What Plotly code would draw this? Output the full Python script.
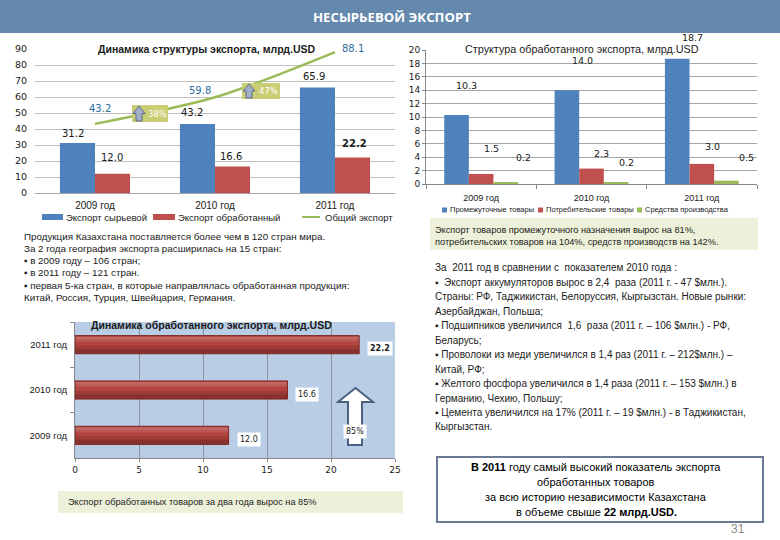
import plotly.graph_objects as go

W, H = 780, 540

# ---------------- data ----------------
years = ["2009 год", "2010 год", "2011 год"]
raw_export = [31.2, 43.2, 65.9]          # Экспорт сырьевой
processed_export = [12.0, 16.6, 22.2]    # Экспорт обработанный
total_export = [43.2, 59.8, 88.1]        # Общий экспорт
total_growth = ["38%", "47%"]

years2 = ["2009 год", "2010 год", "2011 год"]
intermediate = [10.3, 14.0, 18.7]        # Промежуточные товары
consumer = [1.5, 2.3, 3.0]               # Потребительские товары
capital = [0.2, 0.2, 0.5]                # Средства производства

processed_growth = "85%"

# ---------------- styles ----------------
BLUE, RED, GREEN = "#4F81BD", "#C0504D", "#9BBB59"
FONT = "Liberation Sans"
NUM = "DejaVu Sans"
TXT = "#1a1a1a"


def px(x):
    return x / W


def py(y):
    return 1 - y / H


fig = go.Figure()

# ---------- chart 1: export structure ----------
bw1 = 0.292
fig.add_trace(go.Bar(x=years, y=raw_export, name="Экспорт сырьевой", marker_color=BLUE,
                     width=bw1, offset=-bw1, xaxis="x", yaxis="y", showlegend=False))
fig.add_trace(go.Bar(x=years, y=processed_export, name="Экспорт обработанный", marker_color=RED,
                     width=bw1, offset=0, xaxis="x", yaxis="y", showlegend=False))
fig.add_trace(go.Scatter(x=years, y=total_export, name="Общий экспорт", mode="lines",
                         line=dict(color=GREEN, width=2.5, shape="spline", smoothing=0.8),
                         xaxis="x", yaxis="y", showlegend=False))

# ---------- chart 2: processed export structure ----------
bw2 = 0.223
for vals, col, off, nm in [(intermediate, BLUE, -1.5 * bw2, "Промежуточные товары"),
                           (consumer, RED, -0.5 * bw2, "Потребительские товары"),
                           (capital, GREEN, 0.5 * bw2, "Средства производства")]:
    fig.add_trace(go.Bar(x=years2, y=vals, name=nm, marker_color=col, width=bw2, offset=off,
                         xaxis="x2", yaxis="y2", showlegend=False))

# ---------- chart 3: processed export dynamics (shaded bars) ----------
bw3 = 0.4
fig.add_trace(go.Bar(x=processed_export, y=years, orientation="h", width=bw3, offset=-bw3 / 2,
                     marker=dict(color="#B4443F", line=dict(width=0)), name="Экспорт обработанный",
                     xaxis="x3", yaxis="y3", showlegend=False))
for w_frac, shade in [(0.28, "rgba(255,255,255,0.10)"), (0.14, "rgba(255,255,255,0.10)")]:
    fig.add_trace(go.Bar(x=processed_export, y=years, orientation="h", width=bw3 * w_frac,
                         offset=bw3 / 2 - bw3 * w_frac - bw3 * 0.06,
                         marker=dict(color=shade, line=dict(width=0)), hoverinfo="skip",
                         xaxis="x3", yaxis="y3", showlegend=False))
for w_frac, shade in [(0.45, "rgba(0,0,0,0.12)"), (0.25, "rgba(0,0,0,0.14)")]:
    fig.add_trace(go.Bar(x=processed_export, y=years, orientation="h", width=bw3 * w_frac,
                         offset=-bw3 / 2, marker=dict(color=shade, line=dict(width=0)), hoverinfo="skip",
                         xaxis="x3", yaxis="y3", showlegend=False))
fig.add_trace(go.Bar(x=processed_export, y=years, orientation="h", width=bw3, offset=-bw3 / 2,
                     marker=dict(color="rgba(0,0,0,0)", line=dict(color="#7E2624", width=1)),
                     hoverinfo="skip", xaxis="x3", yaxis="y3", showlegend=False))

ann = []
shapes = []


def txt(x, y, s, size, color=TXT, anchor="left", family=FONT, bg=None, pad=1):
    d = dict(xref="paper", yref="paper", x=px(x), y=py(y), text=s, showarrow=False,
             xanchor=anchor, yanchor="middle", font=dict(family=family, size=size, color=color),
             borderpad=pad)
    if bg:
        d["bgcolor"] = bg
    ann.append(d)


# header
shapes.append(dict(type="rect", xref="paper", yref="paper", x0=0, x1=1, y0=py(33), y1=1,
                   fillcolor="#6589AD", line=dict(width=0), layer="below"))
txt(392, 17, "<b>НЕСЫРЬЕВОЙ ЭКСПОРТ</b>", 13.2, "white", "center", "Open Sans")

# chart 1 labels
off1 = [-bw1 / 2, bw1 / 2]
lab_raw = [(-4, 10), (-5, 11), (-3, 11)]
lab_proc = [(-1, 16), (-2, 10), (2, 14)]
for i in range(3):
    ann.append(dict(xref="x", yref="y", x=i + off1[0], y=raw_export[i], text=f"{raw_export[i]:.1f}",
                    showarrow=False, xshift=lab_raw[i][0], yshift=lab_raw[i][1],
                    font=dict(family=NUM, size=10, color=TXT)))
    ann.append(dict(xref="x", yref="y", x=i + off1[1], y=processed_export[i],
                    text=(f"<b>{processed_export[i]:.1f}</b>" if i == 2 else f"{processed_export[i]:.1f}"),
                    showarrow=False, xshift=lab_proc[i][0], yshift=lab_proc[i][1],
                    font=dict(family=NUM, size=10, color=TXT)))
lab_tot = [(5, 15), (-15, 7), (18, 4)]
for i in range(3):
    ann.append(dict(xref="x", yref="y", x=i, y=total_export[i], text=f"{total_export[i]:.1f}",
                    showarrow=False, xshift=lab_tot[i][0], yshift=lab_tot[i][1],
                    font=dict(family=NUM, size=10, color="#2B6C9E")))
txt(206, 49, "<b>Динамика структуры экспорта, млрд.USD</b>", 10.5, TXT, "center")


def pct_box(x0, y0, x1, y1, label):
    shapes.append(dict(type="rect", xref="paper", yref="paper", x0=px(x0), x1=px(x1), y0=py(y1), y1=py(y0),
                       fillcolor="#C9CD74", line=dict(width=0)))
    ax0, ax1 = x0 + 1, x0 + 13
    am = (ax0 + ax1) / 2
    ym = (y0 + y1) / 2
    path = (f"M{px(ax0)},{py(ym)} L{px(am)},{py(y0 + 1)} L{px(ax1)},{py(ym)} L{px(am + 3)},{py(ym)} "
            f"L{px(am + 3)},{py(y1 - 1)} L{px(am - 3)},{py(y1 - 1)} L{px(am - 3)},{py(ym)} Z")
    shapes.append(dict(type="path", xref="paper", yref="paper", path=path, fillcolor="#A3AECB",
                       line=dict(color="#5C6A8A", width=1)))
    txt((x0 + 14 + x1) / 2, ym, label, 8.5, "white", "center", NUM)


pct_box(132, 105, 168, 122, total_growth[0])
pct_box(242, 83, 280, 99, total_growth[1])

# chart 1 legend (manual)
LY1 = 217
shapes.append(dict(type="rect", xref="paper", yref="paper", x0=px(42), x1=px(63), y0=py(LY1 + 3),
                   y1=py(LY1 - 3), fillcolor=BLUE, line=dict(width=0)))
shapes.append(dict(type="rect", xref="paper", yref="paper", x0=px(153), x1=px(175), y0=py(LY1 + 3),
                   y1=py(LY1 - 3), fillcolor=RED, line=dict(width=0)))
shapes.append(dict(type="line", xref="paper", yref="paper", x0=px(302), x1=px(320), y0=py(LY1), y1=py(LY1),
                   line=dict(color=GREEN, width=2)))
txt(64, LY1, "Экспорт сырьевой", 9.5)
txt(176, LY1, "Экспорт обработанный", 9.5)
txt(323, LY1, "Общий экспорт", 9.5)

# chart 2 labels
cent2 = [-bw2, 0, bw2]
lab2 = [[(10, 29), (16, 30), (15, 21)],
        [(10, 25), (10, 15), (11, 17)],
        [(18, 25), (10, 20), (20, 23)]]
for s, vals in enumerate([intermediate, consumer, capital]):
    for i in range(3):
        ann.append(dict(xref="x2", yref="y2", x=i + cent2[s], y=vals[i], text=f"{vals[i]:.1f}",
                        showarrow=False, xshift=lab2[s][i][0], yshift=lab2[s][i][1],
                        font=dict(family=NUM, size=9.5, color=TXT)))
txt(582, 49, "Структура обработанного экспорта, млрд.USD", 10.8, TXT, "center")

# chart 2 legend (manual)
LY2 = 210
for x0, col, label in [(442, BLUE, "Промежуточные товары"), (538, RED, "Потребительские товары"),
                       (637, GREEN, "Средства производства")]:
    shapes.append(dict(type="rect", xref="paper", yref="paper", x0=px(x0), x1=px(x0 + 5), y0=py(LY2 + 2.5),
                       y1=py(LY2 - 2.5), fillcolor=col, line=dict(width=0)))
    txt(x0 + 6, LY2, label, 7.5)

# green note box
shapes.append(dict(type="rect", xref="paper", yref="paper", x0=px(430), x1=px(758), y0=py(250), y1=py(218),
                   fillcolor="#EEF1DA", line=dict(width=0), layer="below"))
txt(433, 230, "Экспорт товаров промежуточного назначения вырос на 81%,", 9.2)
txt(433, 242, "потребительских товаров на 104%, средств производств на 142%.", 9.2)

# left text block
left_lines = [
    "Продукция Казахстана поставляется более чем в 120 стран мира.",
    "За 2 года география экспорта расширилась на 15 стран:",
    "▪ в 2009 году – 106 стран;",
    "▪ в 2011 году – 121 стран.",
    "▪ первая 5-ка стран, в которые направлялась обработанная продукция:",
    "Китай, Россия, Турция, Швейцария, Германия.",
]
for k, s in enumerate(left_lines):
    txt(22, 236 + k * 12.3, s, 9.8)

# right text block
right_lines = [
    "За  2011 год в сравнении с  показателем 2010 года :",
    "▪  Экспорт аккумуляторов вырос в 2,4  раза (2011 г. - 47 $млн.).",
    "Страны: РФ, Таджикистан, Белоруссия, Кыргызстан. Новые рынки:",
    "Азербайджан, Польша;",
    "▪ Подшипников увеличился  1,6  раза (2011 г. – 106 $млн.) - РФ,",
    "Беларусь;",
    "▪ Проволоки из меди увеличился в 1,4 раз (2011 г. – 212$млн.) –",
    "Китай, РФ;",
    "▪ Желтого фосфора увеличился в 1,4 раза (2011 г. – 153 $млн.) в",
    "Германию, Чехию, Польшу;",
    "▪ Цемента увеличился на 17% (2011 г. – 19 $млн.) - в Таджикистан,",
    "Кыргызстан.",
]
for k, s in enumerate(right_lines):
    txt(433, 268 + k * 14.45, s, 10)

# chart 3 background and decorations
shapes.append(dict(type="rect", xref="x3 domain", yref="y3 domain", x0=0, x1=1, y0=0, y1=1,
                   fillcolor="#B9CDE5", line=dict(width=0), layer="below"))
txt(211, 325, "<b>Динамика обработанного экспорта, млрд.USD</b>", 10.5, TXT, "center")
for i in range(3):
    v = processed_export[i]
    ann.append(dict(xref="x3", yref="y3", x=v, y=i, text=(f"<b>{v:.1f}</b>" if i == 2 else f"{v:.1f}"),
                    showarrow=False, xanchor="left", xshift=8, yshift=-4, bgcolor="white", borderpad=2,
                    font=dict(family=NUM, size=8, color=TXT)))
arrow = "M{},{} L{},{} L{},{} L{},{} L{},{} L{},{} L{},{} Z".format(
    px(348), py(445), px(348), py(402), px(338), py(402), px(355.5), py(388),
    px(373), py(402), px(362), py(402), px(362), py(445))
shapes.append(dict(type="path", xref="paper", yref="paper", path=arrow, fillcolor="white",
                   line=dict(color="#4A6183", width=2)))
txt(355, 431, processed_growth, 8, TXT, "center", NUM, bg="white", pad=2)

# bottom-left note
shapes.append(dict(type="rect", xref="paper", yref="paper", x0=px(58), x1=px(403), y0=py(513), y1=py(491),
                   fillcolor="#EEF1DA", line=dict(width=0), layer="below"))
txt(66, 502, "Экспорт обработанных товаров за два года вырос на 85%", 9.2)

# bottom-right box
shapes.append(dict(type="rect", xref="paper", yref="paper", x0=px(437), x1=px(763), y0=py(522), y1=py(457),
                   fillcolor="white", line=dict(color="#6C7B95", width=2), layer="below"))
br = ["<b>В 2011</b> году самый высокий показатель экспорта",
      "обработанных товаров",
      "за всю историю независимости Казахстана",
      "в объеме свыше <b>22 млрд.USD.</b>"]
for k, s in enumerate(br):
    txt(596, 467 + k * 15, s, 11, "black", "center")
txt(738, 529, "31", 12, "#8C8C8C", "center")

axis_font = dict(family=NUM, size=9, color=TXT)
fig.update_layout(
    width=W, height=H, margin=dict(l=0, r=0, t=0, b=0),
    paper_bgcolor="white", plot_bgcolor="rgba(0,0,0,0)", template="none",
    xaxis=dict(domain=[px(35), px(395)], anchor="y", type="category", showgrid=False, showline=True,
               linecolor="#A6A6A6", ticks="", ticklabelstandoff=3,
               tickfont=dict(family=FONT, size=10, color=TXT)),
    yaxis=dict(domain=[py(193), py(49)], anchor="x", range=[0, 90], dtick=10, showgrid=True,
               gridcolor="#BFBFBF", gridwidth=1, zeroline=False, showline=False, ticks="",
               ticklabelstandoff=7, tickfont=dict(family=NUM, size=9.5, color=TXT)),
    xaxis2=dict(domain=[px(426), px(757)], anchor="y2", type="category", showgrid=False, showline=True,
                linecolor="#868686", ticks="outside", tickson="boundaries", ticklen=4, tickcolor="#868686",
                ticklabelstandoff=5, tickfont=dict(family=FONT, size=9, color=TXT)),
    yaxis2=dict(domain=[py(184), py(50)], anchor="x2", range=[0, 20], dtick=2, showgrid=True,
                gridcolor="#A6A6A6", zeroline=False, showline=True, linecolor="#868686", ticks="outside",
                ticklen=3, tickcolor="#868686", tickfont=axis_font),
    xaxis3=dict(domain=[px(75), px(395)], anchor="y3", range=[0, 25], dtick=5, showgrid=True,
                gridcolor="#8A929C", zeroline=False, showline=True, linecolor="#868686", ticks="outside",
                ticklen=3, tickcolor="#868686", tickfont=axis_font),
    yaxis3=dict(domain=[py(458), py(322)], anchor="x3", type="category", showgrid=False, showline=True,
                linecolor="#868686", ticks="outside", tickson="boundaries", ticklen=4, tickcolor="#868686",
                ticklabelstandoff=5, tickfont=dict(family=FONT, size=9.5, color=TXT)),
    annotations=ann, shapes=shapes,
)

fig.write_html("out.html", config={"displayModeBar": False},
               post_script="document.body.style.margin='0';")
